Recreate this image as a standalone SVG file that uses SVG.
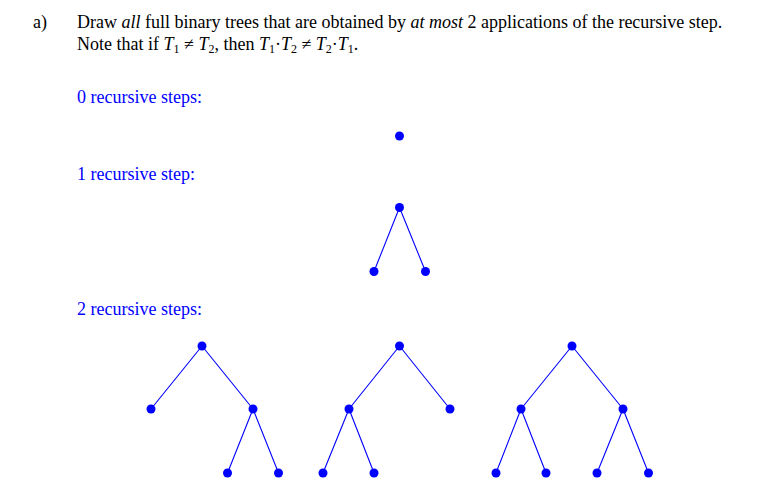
<svg xmlns="http://www.w3.org/2000/svg" width="777" height="493" viewBox="0 0 777 493">
<style>
.t{font-family:"Liberation Serif","Times New Roman",serif;font-size:18px;fill:#000}
.b{font-family:"Liberation Serif","Times New Roman",serif;font-size:18px;fill:#0000ff}
.i{font-style:italic}
.s{font-size:12px}
.e{stroke:#0000ff;stroke-width:1.1;fill:none}
.n{fill:#0000ff}
</style>
<rect width="777" height="493" fill="#fff"/>
<g id="text">
<text class="t" x="33" y="28">a)</text>
<text class="t" x="77" y="28">Draw <tspan class="i">all</tspan> full binary trees that are obtained by <tspan class="i">at most</tspan> 2 applications of the recursive step.</text>
<text class="t" x="77" y="50">Note that if <tspan class="i">T</tspan><tspan class="s" dy="3">1</tspan><tspan dy="-3"> ≠ </tspan><tspan class="i">T</tspan><tspan class="s" dy="3">2</tspan><tspan dy="-3">, then </tspan><tspan class="i">T</tspan><tspan class="s" dy="3">1</tspan><tspan dy="-3">·</tspan><tspan class="i">T</tspan><tspan class="s" dy="3">2</tspan><tspan dy="-3"> ≠ </tspan><tspan class="i">T</tspan><tspan class="s" dy="3">2</tspan><tspan dy="-3">·</tspan><tspan class="i">T</tspan><tspan class="s" dy="3">1</tspan><tspan dy="-3">.</tspan></text>
<text class="b" x="77" y="103">0 recursive steps:</text>
<text class="b" x="77" y="180">1 recursive step:</text>
<text class="b" x="77" y="315">2 recursive steps:</text>
</g>
<g id="connectors">
<path class="e" d="M399.5 207.5L374 271.5M399.5 207.5L425.5 271.5"/>
<path class="e" d="M202 346L151 409M202 346L253 409M253 409L227.5 473M253 409L278.5 473"/>
<path class="e" d="M399.5 346L349 409M399.5 346L450 409M349 409L323 473M349 409L374 473"/>
<path class="e" d="M572 346L521 409M572 346L623 409M521 409L496 473M521 409L546 473M623 409L597 473M623 409L648.5 473"/>
</g>
<g id="tree0"><circle class="n" cx="399.5" cy="136" r="4.5"/></g>
<g id="tree1">
<circle class="n" cx="399.5" cy="207.5" r="4.5"/>
<circle class="n" cx="374" cy="271.5" r="4.5"/>
<circle class="n" cx="425.5" cy="271.5" r="4.5"/>
</g>
<g id="tree2a">
<circle class="n" cx="202" cy="346" r="4.5"/>
<circle class="n" cx="151" cy="409" r="4.5"/>
<circle class="n" cx="253" cy="409" r="4.5"/>
<circle class="n" cx="227.5" cy="473" r="4.5"/>
<circle class="n" cx="278.5" cy="473" r="4.5"/>
</g>
<g id="tree2b">
<circle class="n" cx="399.5" cy="346" r="4.5"/>
<circle class="n" cx="349" cy="409" r="4.5"/>
<circle class="n" cx="450" cy="409" r="4.5"/>
<circle class="n" cx="323" cy="473" r="4.5"/>
<circle class="n" cx="374" cy="473" r="4.5"/>
</g>
<g id="tree2c">
<circle class="n" cx="572" cy="346" r="4.5"/>
<circle class="n" cx="521" cy="409" r="4.5"/>
<circle class="n" cx="623" cy="409" r="4.5"/>
<circle class="n" cx="496" cy="473" r="4.5"/>
<circle class="n" cx="546" cy="473" r="4.5"/>
<circle class="n" cx="597" cy="473" r="4.5"/>
<circle class="n" cx="648.5" cy="473" r="4.5"/>
</g>
</svg>
